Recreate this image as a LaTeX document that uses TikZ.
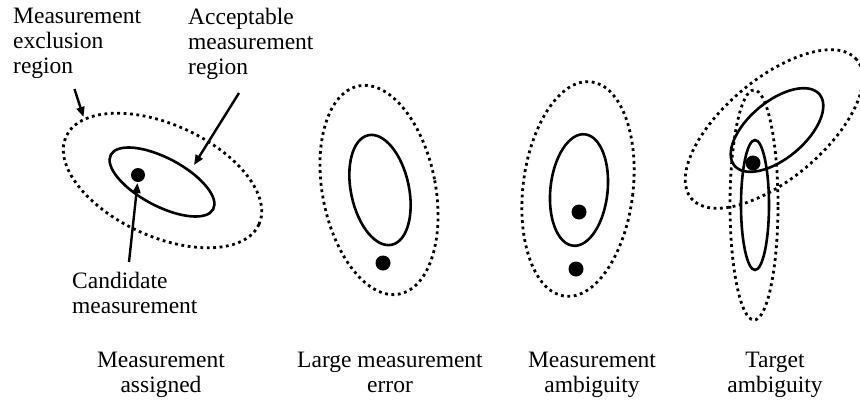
\documentclass[tikz,border=0pt]{standalone}
\usepackage{fontspec}
\setmainfont{Liberation Serif}
\usetikzlibrary{arrows.meta}
\tikzset{
  lbl/.style={inner sep=0pt, font=\fontsize{23.5}{25}\selectfont},
  solidring/.style={draw=black, line width=2.6pt},
  dotring/.style={draw=black, line width=2.8pt, dash pattern=on 2.8pt off 3.6pt},
  blob/.style={fill=black},
  pointer/.style={draw=black, line width=2.4pt, -{Triangle[length=10pt,width=8pt]}}
}
\begin{document}
\begin{tikzpicture}[x=1pt,y=1pt]
\useasboundingbox (0,0) rectangle (860,-402);

% Panel 1: measurement assigned
\draw[dotring] (162.5,-180.5) ellipse [x radius=106, y radius=56, rotate=-24.5];
\draw[solidring] (162,-182) ellipse [x radius=58, y radius=24, rotate=-28];
\fill[blob] (138,-175) circle (7);

% Panel 2: large measurement error
\draw[dotring] (379,-190) ellipse [x radius=56.5, y radius=106, rotate=11];
\draw[solidring] (380,-190) ellipse [x radius=29, y radius=56, rotate=12];
\fill[blob] (383,-263) circle (7.5);

% Panel 3: measurement ambiguity
\draw[dotring] (578,-189) ellipse [x radius=55, y radius=108, rotate=-7];
\draw[solidring] (579,-190) ellipse [x radius=28.6, y radius=56, rotate=-6];
\fill[blob] (579,-212) circle (7.5);
\fill[blob] (576,-269) circle (7.5);

% Panel 4: target ambiguity
\draw[dotring] (774,-129) ellipse [x radius=108, y radius=50, rotate=40];
\draw[solidring] (777,-130) ellipse [x radius=55.5, y radius=28.5, rotate=40];
\draw[dotring] (754,-205) ellipse [x radius=24, y radius=115];
\draw[solidring] (755,-205) ellipse [x radius=14, y radius=65];
\fill[blob] (753,-163) circle (7.5);

% Labels (base anchor = baseline of the last line)
\node[lbl, anchor=base west, align=left] (excl) at (13,-73) {Measurement\\exclusion\\region};
\node[lbl, anchor=base west, align=left] (accept) at (188,-74) {Acceptable\\measurement\\region};
\node[lbl, anchor=base west, align=left] (cand) at (72,-313) {Candidate\\measurement};

\node[lbl, anchor=base, align=center] (cap1) at (161,-392) {Measurement\\assigned};
\node[lbl, anchor=base, align=center] (cap2) at (390,-392) {Large measurement\\error};
\node[lbl, anchor=base, align=center] (cap3) at (592,-392) {Measurement\\ambiguity};
\node[lbl, anchor=base, align=center] (cap4) at (775,-392) {Target\\ambiguity};

% Pointers
\coordinate (exclFrom) at (74.5,-89);
\coordinate (exclTo) at (83.5,-117);
\coordinate (accFrom) at (239,-93);
\coordinate (accTo) at (194,-165);
\coordinate (candFrom) at (129,-262);
\coordinate (candTo) at (137.5,-183);
\draw[pointer] (exclFrom) -- (exclTo);
\draw[pointer] (accFrom) -- (accTo);
\draw[pointer] (candFrom) -- (candTo);
\end{tikzpicture}
\end{document}
